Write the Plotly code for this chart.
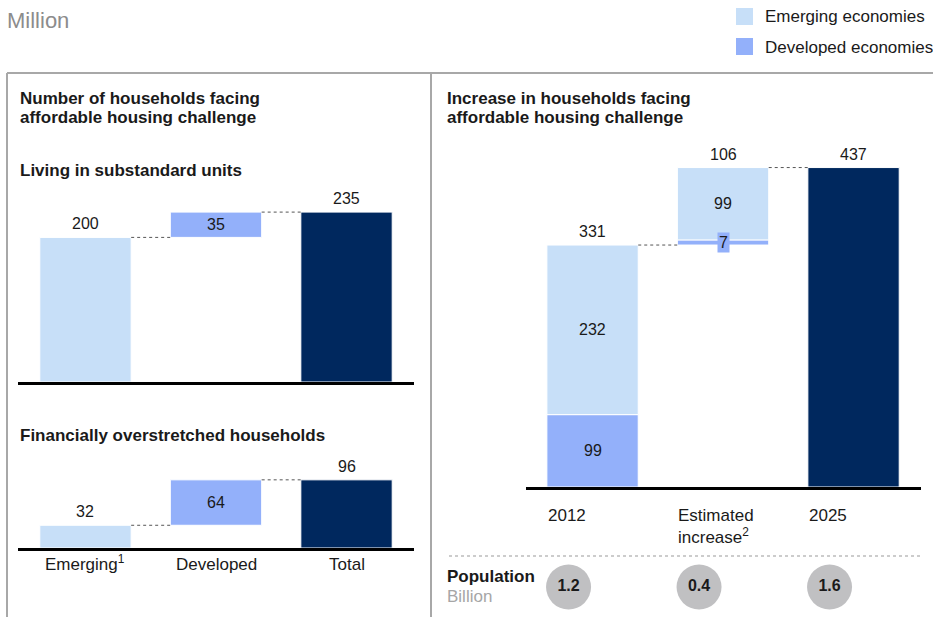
import plotly.graph_objects as go

W, H = 933, 617

# ---- data (million households) ----
left_categories = ["Emerging<sup>1</sup>", "Developed", "Total"]
substandard = [200, 35]          # emerging, developed
overstretched = [32, 64]         # emerging, developed
right_categories = ["2012", "Estimated<br>increase<sup>2</sup>", "2025"]
developed_2012 = 99
emerging_2012 = 232
developed_increase = 7
emerging_increase = 99
population = [1.2, 0.4, 1.6]     # billion

EMER = "#c7dff8"
DEV = "#93b0fa"
TOT = "#00285e"
GRID = "#a8a8a8"
FONT = "Liberation Sans, Arial, sans-serif"


def px(p):
    return p / W


def py(p):
    return 1 - p / H


fig = go.Figure()
annotations = []
shapes = []


def bar(x, y, base, color, xa, ya):
    fig.add_trace(
        go.Bar(
            x=[x], y=[y], base=[base], width=0.7,
            marker=dict(color=color, line=dict(color="white", width=1)),
            xaxis=xa, yaxis=ya, showlegend=False, hoverinfo="skip",
        )
    )


def connector(x, level, xa, ya):
    shapes.append(dict(
        type="line", xref=xa, yref=ya, x0=x + 0.35, x1=x + 0.65,
        y0=level, y1=level, line=dict(color="#555555", width=1, dash="dot"),
    ))


def label(x, y, text, xa, ya, anchor="middle", shift=0, size=16, bg=None):
    annotations.append(dict(
        x=x, y=y, xref=xa, yref=ya, text=text, showarrow=False,
        yanchor=anchor, yshift=shift, bgcolor=bg, borderpad=1,
        font=dict(family=FONT, size=size, color="#1a1a1a"),
    ))


def small_waterfall(vals, xa, ya):
    emerging, developed = vals
    total = emerging + developed
    bar(0, emerging, 0, EMER, xa, ya)
    bar(1, developed, emerging, DEV, xa, ya)
    bar(2, total, 0, TOT, xa, ya)
    connector(0, emerging, xa, ya)
    connector(1, total, xa, ya)
    label(0, emerging, str(emerging), xa, ya, "bottom", 3)
    label(1, emerging + developed / 2, str(developed), xa, ya)
    label(2, total, str(total), xa, ya, "bottom", 3)


small_waterfall(substandard, "x", "y")
small_waterfall(overstretched, "x2", "y2")

# right chart
total_2012 = developed_2012 + emerging_2012
increase = developed_increase + emerging_increase
total_2025 = total_2012 + increase
bar(0, developed_2012, 0, DEV, "x3", "y3")
bar(0, emerging_2012, developed_2012, EMER, "x3", "y3")
bar(1, developed_increase, total_2012, DEV, "x3", "y3")
bar(1, emerging_increase, total_2012 + developed_increase, EMER, "x3", "y3")
bar(2, total_2025, 0, TOT, "x3", "y3")
connector(0, total_2012, "x3", "y3")
connector(1, total_2025, "x3", "y3")
label(0, developed_2012 / 2, str(developed_2012), "x3", "y3")
label(0, developed_2012 + emerging_2012 / 2, str(emerging_2012), "x3", "y3")
label(0, total_2012, str(total_2012), "x3", "y3", "bottom", 3)
label(1, total_2012 + developed_increase + emerging_increase / 2, str(emerging_increase), "x3", "y3")
label(1, total_2012 + developed_increase / 2, str(developed_increase), "x3", "y3", bg=DEV)
label(1, total_2025, str(increase), "x3", "y3", "bottom", 3)
label(2, total_2025, str(total_2025), "x3", "y3", "bottom", 3)

# population circles
fig.add_trace(go.Scatter(
    x=[0, 1, 2], y=[0.5] * 3, mode="markers+text",
    text=[f"<b>{v}</b>" for v in population],
    textfont=dict(family=FONT, size=16, color="#1a1a1a"),
    marker=dict(size=45, color="#c0c0c2"),
    xaxis="x4", yaxis="y4", showlegend=False, hoverinfo="skip",
))

# category labels
for i, c in enumerate(left_categories):
    annotations.append(dict(
        x=i, y=py(576), xref="x2", yref="paper", text=c, showarrow=False,
        font=dict(family=FONT, size=17, color="#1a1a1a"),
    ))
for i, c in enumerate(right_categories):
    annotations.append(dict(
        x=i - 0.36, y=py(504), xref="x3", yref="paper", text=c, showarrow=False,
        xanchor="left", yanchor="top", align="left",
        font=dict(family=FONT, size=17, color="#1a1a1a"),
    ))


def text(x, y, t, size=17, color="#1a1a1a", bold=False, anchor="left"):
    annotations.append(dict(
        x=px(x), y=py(y), xref="paper", yref="paper", showarrow=False,
        text=f"<b>{t}</b>" if bold else t, xanchor=anchor, yanchor="middle", align="left",
        font=dict(family=FONT, size=size, color=color),
    ))


text(5, 20, "Million", 22, "#8c8c8c")
text(763, 17, "Emerging economies")
text(763, 48, "Developed economies")
text(18, 98, "Number of households facing", bold=True)
text(18, 118, "affordable housing challenge", bold=True)
text(18, 170, "Living in substandard units", bold=True)
text(18, 435, "Financially overstretched households", bold=True)
text(445, 98, "Increase in households facing", bold=True)
text(445, 118, "affordable housing challenge", bold=True)
text(445, 576, "Population", bold=True)
text(445, 596, "Billion", 17, "#a6a6a6")

# legend swatches
for y0, c in [(8, EMER), (38, DEV)]:
    shapes.append(dict(type="rect", xref="paper", yref="paper", x0=px(736), x1=px(753),
                       y0=py(y0), y1=py(y0 + 17), fillcolor=c, line=dict(width=0)))

# panel frames
for x0, y0, x1, y1 in [(7, 73, 933, 73), (7, 73, 7, 617), (431, 73, 431, 617)]:
    shapes.append(dict(type="line", xref="paper", yref="paper", x0=px(x0), x1=px(x1),
                       y0=py(y0), y1=py(y1), line=dict(color=GRID, width=2)))
shapes.append(dict(type="line", xref="paper", yref="paper", x0=px(449), x1=px(920),
                   y0=py(556), y1=py(556), line=dict(color="#9a9a9a", width=1.2, dash="dot")))

axis_common = dict(showgrid=False, zeroline=False, showticklabels=False, fixedrange=True)
xline = dict(showline=True, linecolor="black", linewidth=2.5)

fig.update_layout(
    width=W, height=H, margin=dict(l=0, r=0, t=0, b=0),
    paper_bgcolor="white", plot_bgcolor="rgba(0,0,0,0)",
    barmode="overlay", showlegend=False,
    xaxis=dict(domain=[px(18), px(414)], range=[-0.517, 2.517], anchor="y", **axis_common, **xline),
    yaxis=dict(domain=[py(382), py(190)], range=[0, 192 / 0.723], anchor="x", **axis_common),
    xaxis2=dict(domain=[px(18), px(414)], range=[-0.517, 2.517], anchor="y2", **axis_common, **xline),
    yaxis2=dict(domain=[py(548), py(455)], range=[0, 93 / 0.71], anchor="x2", **axis_common),
    xaxis3=dict(domain=[px(526), px(921)], range=[-0.51, 2.517], anchor="y3", **axis_common, **xline),
    yaxis3=dict(domain=[py(487), py(140)], range=[0, 347 / 0.731], anchor="x3", **axis_common),
    xaxis4=dict(domain=[px(502), px(897)], range=[-0.51, 2.517], anchor="y4", **axis_common),
    yaxis4=dict(domain=[py(612), py(562)], range=[0, 1], anchor="x4", **axis_common),
    annotations=annotations, shapes=shapes,
)

fig.write_html("out.html", config={"displayModeBar": False},
               post_script="document.body.style.margin='0';")
